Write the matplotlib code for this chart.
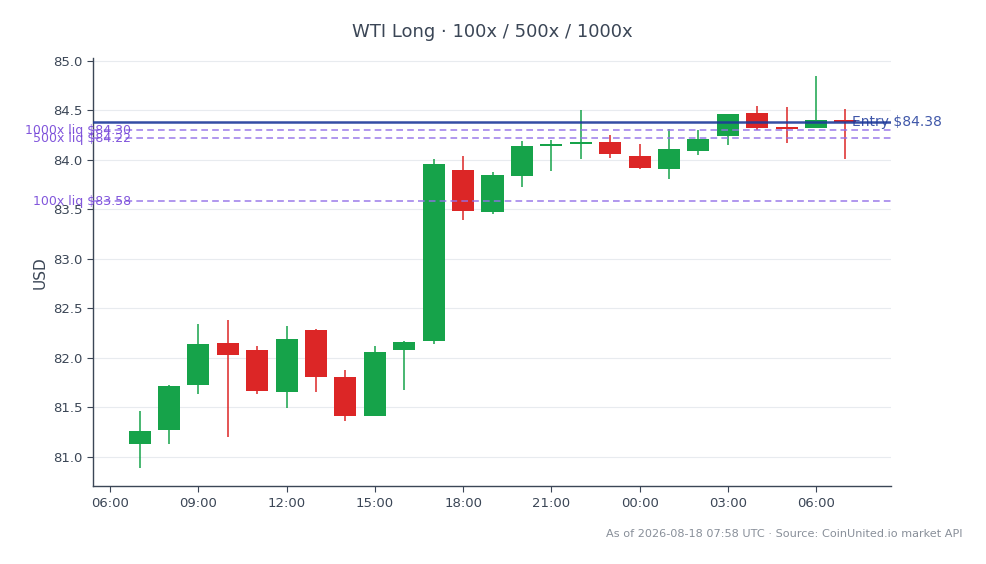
import numpy as np
import matplotlib
matplotlib.use("Agg")
import matplotlib.pyplot as plt
import matplotlib.dates as mdates

matplotlib.rcParams['font.family'] = 'DejaVu Sans'

# hourly candles, 2026-08-17 07:00 -> 2026-08-18 07:00 UTC
times = np.arange(np.datetime64('2026-08-17T07:00'), np.datetime64('2026-08-18T08:00'),
                  np.timedelta64(1, 'h'))
opens = [81.13, 81.27, 81.72, 82.15, 82.08, 81.65, 82.28, 81.80, 81.41, 82.08,
         82.17, 83.90, 83.47, 83.84, 84.14, 84.16, 84.18, 84.04, 83.91, 84.09,
         84.24, 84.47, 84.33, 84.32, 84.40]
highs = [81.46, 81.72, 82.34, 82.38, 82.12, 82.32, 82.29, 81.87, 82.12, 82.17,
         84.01, 84.04, 83.88, 84.19, 84.20, 84.51, 84.25, 84.16, 84.31, 84.30,
         84.46, 84.55, 84.54, 84.85, 84.52]
lows = [80.88, 81.13, 81.63, 81.20, 81.63, 81.49, 81.65, 81.36, 81.41, 81.67,
        82.14, 83.39, 83.45, 83.73, 83.89, 84.01, 84.02, 83.91, 83.81, 84.05,
        84.15, 84.30, 84.17, 84.32, 84.01]
closes = [81.26, 81.71, 82.14, 82.03, 81.66, 82.19, 81.80, 81.41, 82.06, 82.16,
          83.96, 83.48, 83.85, 84.14, 84.16, 84.18, 84.06, 83.92, 84.11, 84.21,
          84.46, 84.32, 84.31, 84.40, 84.38]

entry = 84.38
liq_names = ['100x', '500x', '1000x']
liq_prices = [83.58, 84.22, 84.30]

GREEN = '#16a34a'
RED = '#dc2626'
TEXT = '#3b4656'
LIQ_LINE = '#9370e8'
LIQ_TEXT = '#7444d8'
ENTRY = '#1e3a9a'

fig = plt.figure(figsize=(9.86, 5.64), dpi=100)
ax = fig.add_axes([0.0943, 0.138, 0.8094, 0.759])

x = mdates.date2num(times.astype('datetime64[ms]').astype(object))
o = np.array(opens)
c = np.array(closes)
up = c >= o
colors = np.where(up, GREEN, RED)
width = 0.75 / 24

ax.vlines(x, lows, highs, colors=colors, linewidth=1.1, zorder=2)
bottoms = np.minimum(o, c)
heights = np.maximum(np.abs(c - o), 0.018)
ax.bar(x, heights, width=width, bottom=bottoms, color=colors, zorder=3, linewidth=0)

ax.axhline(entry, color=ENTRY, linewidth=1.8, zorder=4, alpha=0.9)
ax.text(0.951, entry, f'Entry ${entry:.2f}', transform=ax.get_yaxis_transform(),
        color=ENTRY, fontsize=10, ha='left', va='center', zorder=5, alpha=0.85)

for name, p in zip(liq_names, liq_prices):
    ax.axhline(p, color=LIQ_LINE, linewidth=1.2, linestyle=(0, (4, 2.5)), alpha=0.85, zorder=4)
    ax.text(0.048, p, f'{name} liq ${p:.2f}', transform=ax.get_yaxis_transform(),
            color=LIQ_TEXT, fontsize=9, ha='right', va='center', zorder=5, clip_on=False,
            alpha=0.9)

ax.set_ylim(80.70, 85.03)
ax.set_xlim(mdates.date2num(np.datetime64('2026-08-17T05:25').astype('datetime64[ms]').astype(object)),
            mdates.date2num(np.datetime64('2026-08-18T08:33').astype('datetime64[ms]').astype(object)))
ax.set_yticks([81.0, 81.5, 82.0, 82.5, 83.0, 83.5, 84.0, 84.5, 85.0])
ax.xaxis.set_major_locator(mdates.HourLocator(byhour=range(0, 24, 3)))
ax.xaxis.set_major_formatter(mdates.DateFormatter('%H:%M'))

ax.grid(axis='y', color='#e8ebef', linewidth=0.8, zorder=0)
ax.set_axisbelow(True)
for s in ['top', 'right']:
    ax.spines[s].set_visible(False)
for s in ['left', 'bottom']:
    ax.spines[s].set_color('#3b4656')
    ax.spines[s].set_linewidth(1.0)
ax.tick_params(colors=TEXT, labelsize=9.5, length=4)
ax.set_ylabel('USD', color=TEXT, fontsize=11)

fig.text(0.499, 0.943, 'WTI Long · 100x / 500x / 1000x', ha='center', va='center',
         color=TEXT, fontsize=13)
fig.text(0.976, 0.053, 'As of 2026-08-18 07:58 UTC · Source: CoinUnited.io market API',
         ha='right', va='center', color='#888f99', fontsize=8.15)

fig.savefig('out.png', dpi=100)
